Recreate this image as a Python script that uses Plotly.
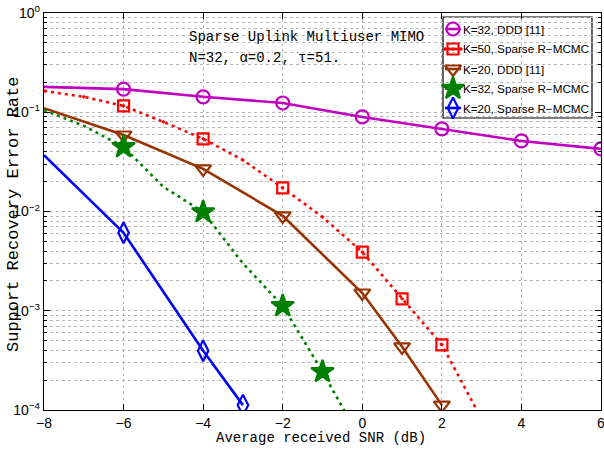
import plotly.graph_objects as go

# ---------------- data ----------------
snr_ddd32 = [-8, -6, -4, -2, 0, 2, 4, 6]
err_ddd32 = [0.18, 0.171, 0.143, 0.124, 0.0897, 0.068, 0.0514, 0.0427]
mk_ddd32 = [0, 1, 1, 1, 1, 1, 1, 1]

snr_mcmc50 = [-8, -7, -6, -5, -4, -3, -2, -1, 0, 1, 2, 3]
err_mcmc50 = [0.164, 0.143, 0.116, 0.080, 0.054, 0.033, 0.0173, 0.0088, 0.0039, 0.00132, 0.000454, 0.000081]
mk_mcmc50 = [0, 0, 1, 0, 1, 0, 1, 0, 1, 1, 1, 0]

snr_ddd20 = [-8, -6, -4, -2, 0, 1, 2]
err_ddd20 = [0.110, 0.059, 0.0269, 0.00904, 0.00151, 0.000433, 0.000112]
mk_ddd20 = [0, 1, 1, 1, 1, 1, 1]

snr_mcmc32 = [-8, -7, -6, -5, -4, -3, -2, -1, 0]
err_mcmc32 = [0.105, 0.073, 0.0448, 0.0177, 0.0099, 0.0030, 0.00112, 0.000243, 0.000047]
mk_mcmc32 = [0, 0, 1, 0, 1, 0, 1, 1, 0]

snr_mcmc20 = [-8, -6, -4, -3]
err_mcmc20 = [0.037, 0.0061, 0.000395, 0.000112]
mk_mcmc20 = [0, 1, 1, 1]

labels = ["K=32, DDD [11]", "K=50, Sparse R\u2212MCMC", "K=20, DDD [11]",
          "K=32, Sparse R\u2212MCMC", "K=20, Sparse R\u2212MCMC"]

x_ticks = [-8, -6, -4, -2, 0, 2, 4, 6]
y_tickvals = [1e-4, 1e-3, 1e-2, 1e-1, 1]
y_ticktext = ["10<sup>\u22124</sup>", "10<sup>\u22123</sup>", "10<sup>\u22122</sup>",
              "10<sup>\u22121</sup>", "10<sup>0</sup>"]

x_title = "Average received SNR (dB)"
y_title = "Support Recovery Error Rate"

# ---------------- geometry ----------------
W, H = 604, 452
ML, MR, MT, MB = 44, 3, 13, 42
PW, PH = W - ML - MR, H - MT - MB
SANS = "Liberation Sans, Arial"
MONO = "Liberation Mono, Courier New"

styles = [
    dict(color="#C000C0", dash="solid", symbol="circle-open", size=13),
    dict(color="#FF0000", dash="3px,4px", symbol="square-open-dot", size=11),
    dict(color="#993300", dash="solid", symbol="triangle-down-open", size=14),
    dict(color="#008000", dash="3px,4px", symbol="star", size=17),
    dict(color="#0000FF", dash="solid", symbol="diamond-tall-open", size=15),
]
series = [
    (snr_ddd32, err_ddd32, mk_ddd32),
    (snr_mcmc50, err_mcmc50, mk_mcmc50),
    (snr_ddd20, err_ddd20, mk_ddd20),
    (snr_mcmc32, err_mcmc32, mk_mcmc32),
    (snr_mcmc20, err_mcmc20, mk_mcmc20),
]

fig = go.Figure()
for (xs, ys, mk), st in zip(series, styles):
    fig.add_trace(go.Scatter(
        x=xs, y=ys, mode="lines+markers", showlegend=False,
        line=dict(color=st["color"], width=2.6, dash=st["dash"]),
        marker=dict(symbol=st["symbol"], size=[st["size"] * m for m in mk],
                    color=st["color"], opacity=1,
                    line=dict(color=st["color"], width=2.2)),
    ))

def px2paper_x(px):
    return (px - ML) / PW

def px2paper_y(py):
    return (H - MB - py) / PH

# ---------------- manual legend (MATLAB style) ----------------
box_l, box_r, box_t, box_b = 443, 592, 17, 118
entry_y = [29, 49, 69, 88.5, 108]
sym_l, sym_c, sym_r, text_x = 445, 453, 461, 461

for lab, st, ey in zip(labels, styles, entry_y):
    fig.add_trace(go.Scatter(
        x=[px2paper_x(sym_l), px2paper_x(sym_c), px2paper_x(sym_r)],
        y=[px2paper_y(ey)] * 3, xaxis="x2", yaxis="y2",
        mode="lines+markers", showlegend=False, cliponaxis=False, hoverinfo="skip",
        line=dict(color=st["color"], width=2.6),
        marker=dict(symbol=st["symbol"], size=[0, st["size"], 0], color=st["color"],
                    opacity=1, line=dict(color=st["color"], width=2.2)),
    ))
    fig.add_annotation(x=px2paper_x(text_x), y=px2paper_y(ey), xref="paper", yref="paper",
                       text=lab, showarrow=False, xanchor="left", yanchor="middle",
                       font=dict(family=SANS, size=11.7, color="black"))

fig.add_shape(type="rect", xref="paper", yref="paper",
              x0=px2paper_x(box_l), x1=px2paper_x(box_r),
              y0=px2paper_y(box_b), y1=px2paper_y(box_t),
              fillcolor="white", line=dict(color="black", width=1.2), layer="between")

# ---------------- text annotation ----------------
fig.add_annotation(x=px2paper_x(187), y=px2paper_y(37), xref="paper", yref="paper",
                   text="Sparse Uplink Multiuser MIMO", showarrow=False,
                   xanchor="left", yanchor="middle",
                   font=dict(family=MONO, size=14, color="black"))
fig.add_annotation(x=px2paper_x(187), y=px2paper_y(58), xref="paper", yref="paper",
                   text="N=32, \u03b1=0.2, \u03c4=51.", showarrow=False,
                   xanchor="left", yanchor="middle",
                   font=dict(family=MONO, size=14, color="black"))

# axis titles placed as annotations for exact positioning
fig.add_annotation(x=px2paper_x(321), y=px2paper_y(438), xref="paper", yref="paper",
                   text=x_title, showarrow=False, xanchor="center", yanchor="middle",
                   font=dict(family=MONO, size=14, color="black"))
fig.add_annotation(x=px2paper_x(14), y=px2paper_y(215), xref="paper", yref="paper",
                   text=y_title, showarrow=False, xanchor="center", yanchor="middle",
                   textangle=-90, font=dict(family=MONO, size=17, color="black"))

grid = "#b8b8b8"
fig.update_layout(
    width=W, height=H,
    margin=dict(l=ML, r=MR, t=MT, b=MB, autoexpand=False),
    paper_bgcolor="white", plot_bgcolor="white",
    xaxis=dict(
        range=[-8, 6], tickvals=x_ticks, ticks="inside", ticklen=6, tickwidth=1,
        tickcolor="black", showline=True, linecolor="black", linewidth=1.3,
        mirror="ticks", showgrid=True, gridcolor=grid, griddash="dot", gridwidth=1,
        zeroline=False, automargin=False, ticklabeloverflow="allow",
        tickfont=dict(family=SANS, size=14, color="black"),
    ),
    yaxis=dict(
        type="log", range=[-4, 0], tickvals=y_tickvals, ticktext=y_ticktext,
        ticks="inside", ticklen=6, tickcolor="black", showline=True, linecolor="black",
        linewidth=1.3, mirror="ticks", showgrid=True, gridcolor=grid, griddash="dot",
        gridwidth=1, zeroline=False, automargin=False, ticklabeloverflow="allow",
        minor=dict(dtick="D1", ticks="inside", ticklen=3, tickcolor="black",
                   showgrid=True, gridcolor=grid, griddash="dot", gridwidth=1),
        tickfont=dict(family=SANS, size=14, color="black"),
    ),
    xaxis2=dict(domain=[0, 1], range=[0, 1], overlaying="x", visible=False, fixedrange=True),
    yaxis2=dict(domain=[0, 1], range=[0, 1], overlaying="y", visible=False, fixedrange=True),
)

fig.write_html("out.html", config={"displayModeBar": False},
               post_script="document.body.style.margin='0px';document.body.style.padding='0px';")
